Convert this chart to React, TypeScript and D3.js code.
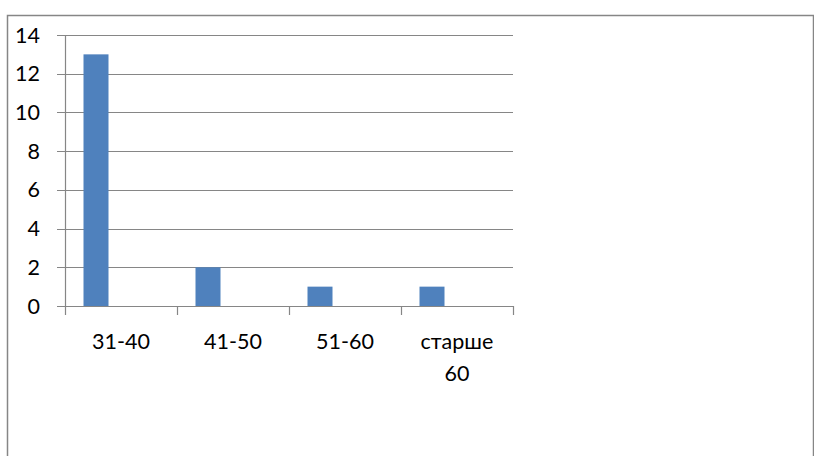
import * as d3 from "d3";
import { useEffect, useRef } from "react";

const CATEGORIES = ["31-40", "41-50", "51-60", "старше 60"];
const SERIES = ["Ряд 1", "Ряд 2", "Ряд 3"];
const VALUES = [13, 2, 1, 1];
const Y_TICKS = [0, 2, 4, 6, 8, 10, 12, 14];

const W = 814;
const H = 456;
const BAR_COLOR = "#4f81bd";
const LINE_COLOR = "#868686";
const FONT = "Lato, 'Noto Sans', sans-serif";

export default function App() {
	const svgRef = useRef<SVGSVGElement>(null);

	useEffect(() => {
		if (!svgRef.current) return;
		const svg = d3.select(svgRef.current);
		svg.selectAll("*").remove();

		// outer chart frame (bottom runs off the picture)
		svg
			.append("rect")
			.attr("x", 7.5)
			.attr("y", 15.5)
			.attr("width", 806)
			.attr("height", 460)
			.attr("fill", "#fff")
			.attr("stroke", LINE_COLOR)
			.attr("stroke-width", 1.5);

		const plot = { left: 65, right: 513, top: 35, bottom: 306 };

		const x = d3.scaleBand<string>().domain(CATEGORIES).range([plot.left, plot.right]);
		const inner = d3
			.scaleBand<string>()
			.domain(SERIES)
			.range([0, x.bandwidth()])
			.paddingInner(0)
			.paddingOuter(0.74);
		const y = d3.scaleLinear().domain([0, 14]).range([plot.bottom, plot.top]);

		// gridlines with left tick stubs
		svg
			.append("g")
			.selectAll("line")
			.data(Y_TICKS)
			.join("line")
			.attr("x1", plot.left - 8)
			.attr("x2", plot.right)
			.attr("y1", (d) => Math.round(y(d)) + 0.5)
			.attr("y2", (d) => Math.round(y(d)) + 0.5)
			.attr("stroke", LINE_COLOR)
			.attr("stroke-width", 1.2);

		// y labels
		svg
			.append("g")
			.selectAll("text")
			.data(Y_TICKS)
			.join("text")
			.attr("x", 40)
			.attr("y", (d) => y(d))
			.attr("dy", "0.35em")
			.attr("text-anchor", "end")
			.attr("font-family", FONT)
			.attr("font-size", 21.5)
			.attr("fill", "#000")
			.text((d) => d);

		// bars (only the first series holds values)
		svg
			.append("g")
			.selectAll("rect")
			.data(VALUES)
			.join("rect")
			.attr("x", (_, i) => (x(CATEGORIES[i]) ?? 0) + (inner(SERIES[0]) ?? 0))
			.attr("y", (d) => y(d))
			.attr("width", inner.bandwidth())
			.attr("height", (d) => y(0) - y(d))
			.attr("fill", BAR_COLOR);

		// y axis line
		svg
			.append("line")
			.attr("x1", plot.left + 0.5)
			.attr("x2", plot.left + 0.5)
			.attr("y1", plot.top)
			.attr("y2", plot.bottom)
			.attr("stroke", LINE_COLOR)
			.attr("stroke-width", 1.2);

		// category ticks
		const tickXs = [...CATEGORIES.map((c) => x(c) ?? 0), plot.right];
		svg
			.append("g")
			.selectAll("line")
			.data(tickXs)
			.join("line")
			.attr("x1", (d) => Math.round(d) + 0.5)
			.attr("x2", (d) => Math.round(d) + 0.5)
			.attr("y1", plot.bottom)
			.attr("y2", plot.bottom + 9)
			.attr("stroke", LINE_COLOR)
			.attr("stroke-width", 1.2);

		// category labels, wrapped on spaces
		const labels = svg
			.append("g")
			.selectAll("text")
			.data(CATEGORIES)
			.join("text")
			.attr("text-anchor", "middle")
			.attr("font-family", FONT)
			.attr("font-size", 21.5)
			.attr("fill", "#000");
		labels.each(function (d) {
			const cx = (x(d) ?? 0) + x.bandwidth() / 2;
			d.split(" ").forEach((part, i) => {
				d3.select(this)
					.append("tspan")
					.attr("x", cx)
					.attr("y", 349 + i * 32)
					.text(part);
			});
		});
	}, []);

	return (
		<svg
			ref={svgRef}
			width={W}
			height={H}
			style={{ position: "absolute", left: 0, top: 0, background: "#fff" }}
		/>
	);
}
